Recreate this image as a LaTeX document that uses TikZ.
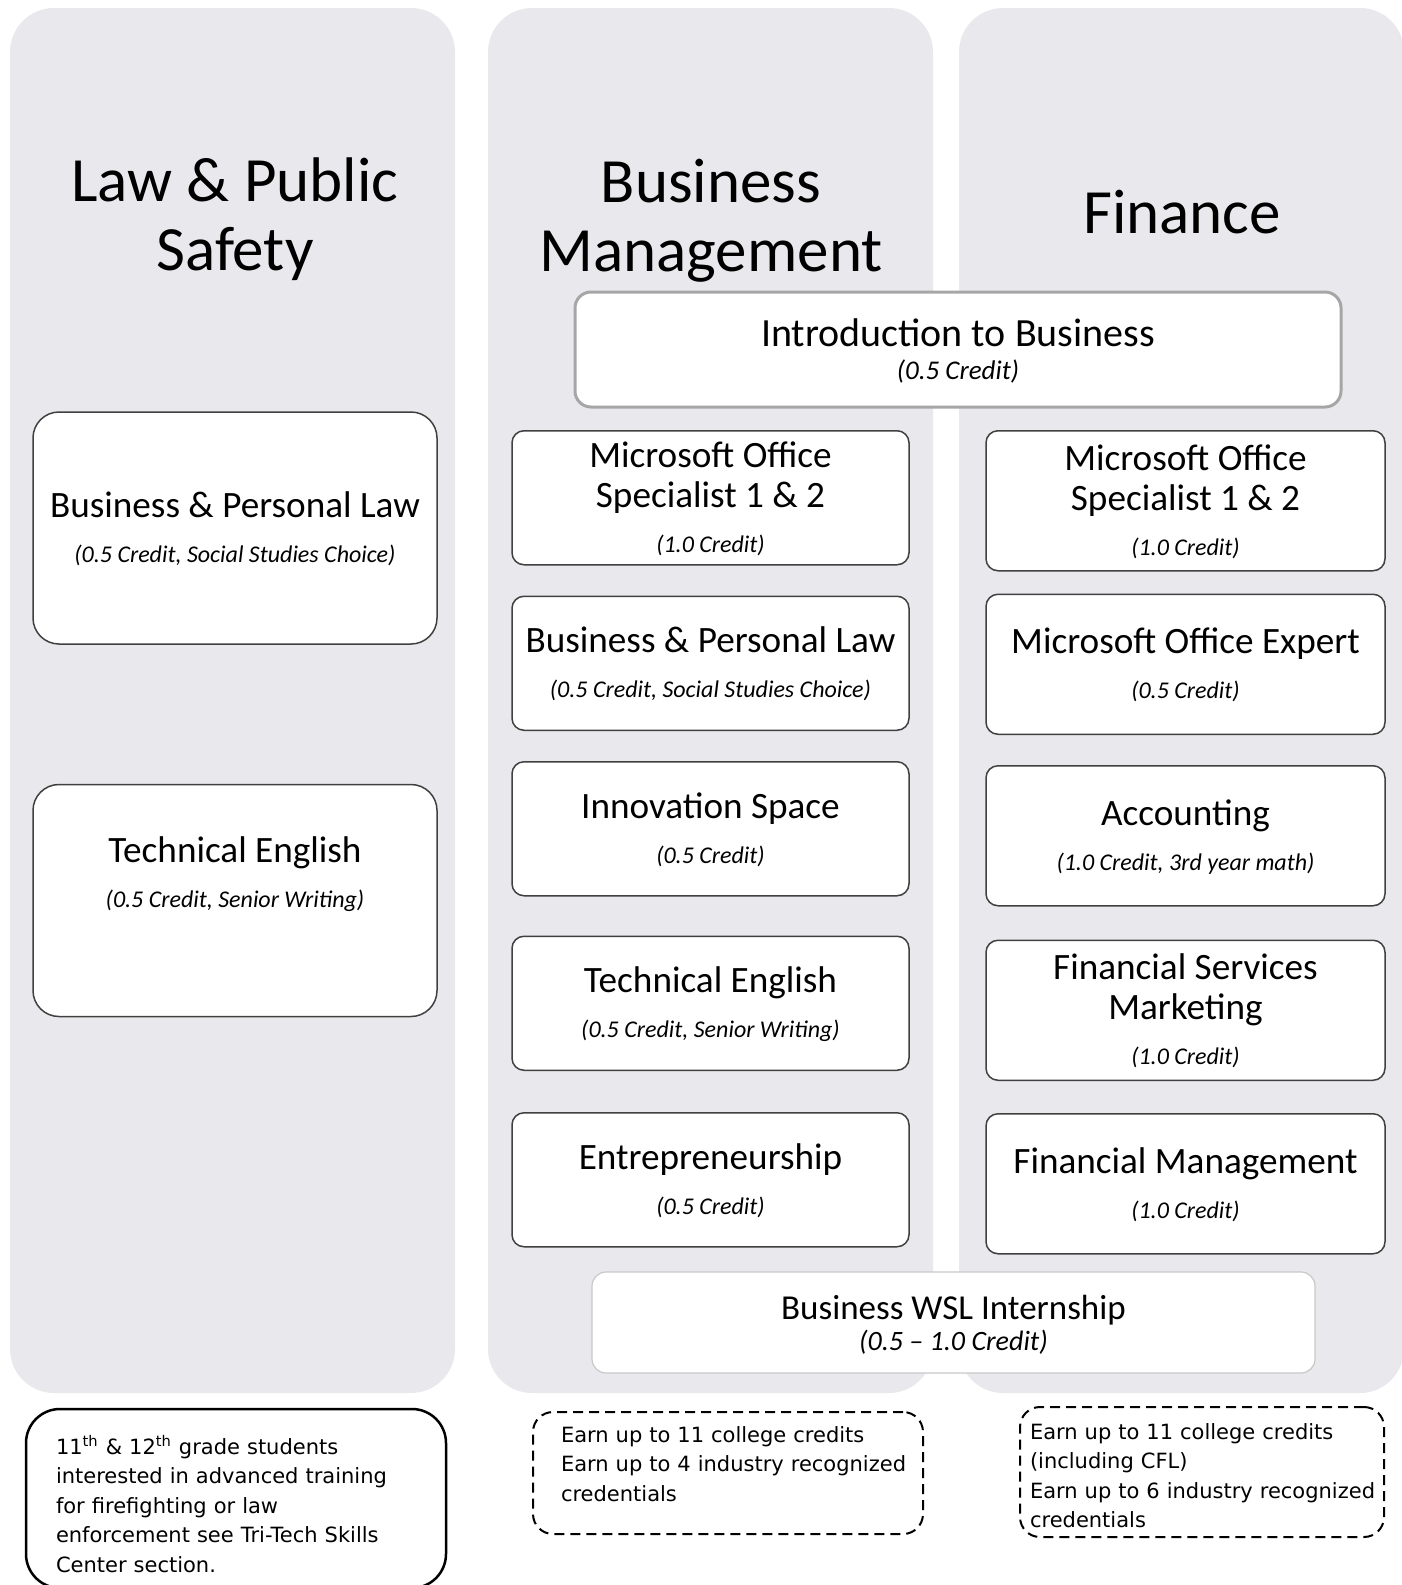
\documentclass[tikz,border=0pt]{standalone}
\usepackage{fontspec}
\setmainfont{Carlito}
\newfontfamily\notefont{DejaVu Sans}
\usetikzlibrary{positioning}

\definecolor{lanegray}{RGB}{233,232,236}
\definecolor{boxline}{RGB}{64,64,64}
\definecolor{introline}{RGB}{166,166,166}
\definecolor{wslline}{RGB}{200,200,200}

% credit line under a course title
\newcommand{\cred}[1]{\\[2.5pt]{\fontsize{12}{13}\selectfont\itshape #1}}
\newcommand{\noteskip}[1]{\parindent=0pt\leftskip=#1\relax}

\tikzset{
    lane/.style={fill=lanegray, rounded corners=22pt},
    lanehead/.style={font=\fontsize{31.5}{34.5}\selectfont, align=center},
    course/.style={draw=boxline, line width=0.75pt, fill=white, rounded corners=6pt,
        align=center, inner sep=0pt, text depth=1pt, font=\fontsize{18.6}{20}\selectfont},
    midcourse/.style={course, minimum width=198.5pt, minimum height=67pt},
    fincourse/.style={course, minimum width=199.5pt, minimum height=70pt},
    lawcourse/.style={course, rounded corners=13pt, minimum width=202pt, minimum height=116pt},
    note/.style={draw=black, fill=white, align=left, inner xsep=0pt, inner ysep=0pt,
        text height=10pt, font=\notefont\fontsize{10.5}{14.75}\selectfont},
    dashnote/.style={note, line width=1pt, dash pattern=on 5pt off 3pt, rounded corners=10pt}
}

\begin{document}
\begin{tikzpicture}[x=0.5pt, y=-0.5pt]
    \useasboundingbox (0,0) rectangle (1402,1585);

    % three pathway lanes
    \fill[lane] (10,8) rectangle (455,1393);
    \fill[lane] (488,8) rectangle (933,1393);
    \fill[lane] (959,8) rectangle (1404,1393);

    \node[lanehead] (lawhead) at (235,219) {Law \& Public\\Safety};
    \node[lanehead] (bushead) at (711,221) {Business\\Management};
    \node[lanehead, anchor=base] (finhead) at (1182,233) {Finance};

    % shared courses
    \node[course, draw=introline, line width=1.5pt, rounded corners=8pt, text depth=-6pt,
        minimum width=383pt, minimum height=57.5pt, font=\fontsize{20}{16.5}\selectfont]
        (intro) at (958,349.5) {Introduction to Business\\{\fontsize{13.5}{14}\selectfont\itshape (0.5 Credit)}};
    \node[course, draw=wslline, line width=0.6pt, rounded corners=7pt, text depth=-2pt,
        minimum width=361.5pt, minimum height=50.5pt, font=\fontsize{17.5}{15.5}\selectfont]
        (wsl) at (953.5,1322.5) {Business WSL Internship\\{\fontsize{14}{14}\selectfont\itshape (0.5 -- 1.0 Credit)}};

    % law & public safety
    \node[lawcourse] (law1) at (235,528) {Business \& Personal Law\cred{(0.5 Credit, Social Studies Choice)}};
    \node[lawcourse, text depth=28pt, below=69.5pt of law1] (law2) {Technical English\cred{(0.5 Credit, Senior Writing)}};

    % business management
    \node[midcourse, anchor=north] (bm1) at (710.5,430) {Microsoft Office\\Specialist 1 \& 2\cred{(1.0 Credit)}};
    \node[midcourse, below=15pt of bm1] (bm2) {Business \& Personal Law\cred{(0.5 Credit, Social Studies Choice)}};
    \node[midcourse, below=15pt of bm2] (bm3) {Innovation Space\cred{(0.5 Credit)}};
    \node[midcourse, below=19.5pt of bm3] (bm4) {Technical English\cred{(0.5 Credit, Senior Writing)}};
    \node[midcourse, below=20.5pt of bm4] (bm5) {Entrepreneurship\cred{(0.5 Credit)}};

    % finance
    \node[fincourse, anchor=north] (fi1) at (1185.5,430) {Microsoft Office\\Specialist 1 \& 2\cred{(1.0 Credit)}};
    \node[fincourse, below=11pt of fi1] (fi2) {Microsoft Office Expert\cred{(0.5 Credit)}};
    \node[fincourse, below=15pt of fi2] (fi3) {Accounting\cred{(1.0 Credit, 3rd year math)}};
    \node[fincourse, below=16.5pt of fi3] (fi4) {Financial Services\\Marketing\cred{(1.0 Credit)}};
    \node[fincourse, below=16pt of fi4] (fi5) {Financial Management\cred{(1.0 Credit)}};

    % notes under the lanes
    \node[note, line width=1.25pt, rounded corners=17pt, text width=210pt, minimum height=89.5pt, text depth=54.5pt]
        (lawnote) at (236,1498.5) {\noteskip{15pt}11\textsuperscript{th} \& 12\textsuperscript{th} grade students\\
        interested in advanced training\\for firefighting or law\\
        enforcement see Tri-Tech Skills\\Center section.\par};
    \node[dashnote, text width=195pt, minimum height=61pt, text depth=41pt]
        (busnote) at (728,1473) {\noteskip{14pt}Earn up to 11 college credits\\
        Earn up to 4 industry recognized\\credentials\par};
    \node[dashnote, text width=182pt, minimum height=65pt, text depth=43pt]
        (finnote) at (1202,1472) {\noteskip{5pt}Earn up to 11 college credits\\(including CFL)\\
        Earn up to 6 industry recognized\\credentials\par};
\end{tikzpicture}
\end{document}
